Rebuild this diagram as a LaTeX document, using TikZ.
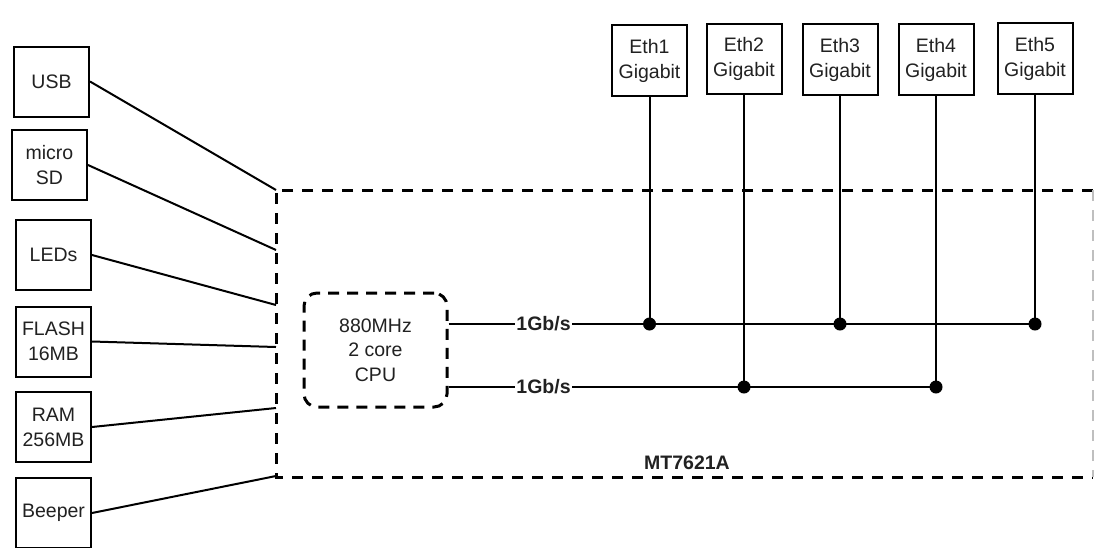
\documentclass[tikz,border=0pt]{standalone}
\usepackage{fontspec}
\setmainfont{Liberation Sans}
\definecolor{txt}{gray}{0.13}
\begin{document}
\begin{tikzpicture}[x=1pt,y=-1pt,
  box/.style={draw=black, line width=2pt, minimum width=75pt, minimum height=70pt, inner sep=0pt, align=center, font=\fontsize{19.5}{25}\selectfont, text=txt},
  link/.style={line width=2pt},
  chipline/.style={line width=3pt, dash pattern=on 11pt off 9pt},
  dot/.style={circle, fill=black, inner sep=0pt, minimum size=13pt},
  rate/.style={fill=white, inner sep=1pt, font=\bfseries\fontsize{19.5}{22}\selectfont, text=txt},
  plain/.style={align=center, inner sep=0pt, font=\fontsize{19.5}{24.5}\selectfont, text=txt}
]
\clip (0,0) rectangle (1094,547);
\fill[white] (0,0) rectangle (1094,547);

% chip outline
\coordinate (tl) at (276,190);
\coordinate (tr) at (1093,190);
\coordinate (br) at (1093,477);
\coordinate (bl) at (276,477);
\draw[chipline] (tr) -- (tl) -- (bl) -- (br);
\draw[line width=2pt, draw=black!25, dash pattern=on 11pt off 9pt] (tr) -- (br);
\node[font=\bfseries\fontsize{19.5}{22}\selectfont, text=txt] (chipname) at (687,463) {MT7621A};

% left peripherals
\node[box] (usb)   at (51.5,81.5) {USB};
\node[box] (sd)    at (49.5,165)  {micro\\SD};
\node[box] (leds)  at (53.5,255)  {LEDs};
\node[box] (flash) at (53.5,341.5){FLASH\\16MB};
\node[box] (ram)   at (53.5,427)  {RAM\\256MB};
\node[box] (beep)  at (53.5,513)  {Beeper};

\coordinate (c1) at (276,190);
\coordinate (c2) at (276,250);
\coordinate (c3) at (276,305);
\coordinate (c4) at (276,347);
\coordinate (c5) at (276,408);
\coordinate (c6) at (276,476);

\draw[link] (usb.east) -- (c1);
\draw[link] (sd.east) -- (c2);
\draw[link] (leds.east) -- (c3);
\draw[link] (flash.east) -- (c4);
\draw[link] (ram.east) -- (c5);
\draw[link] (beep.east) -- (c6);

% CPU
\node[draw=black, line width=3pt, dash pattern=on 11pt off 8pt, rounded corners=13pt,
      minimum width=143pt, minimum height=114pt, plain] (cpu) at (375.5,350) {880MHz\\2 core\\CPU};

% Ethernet ports
\node[box, minimum height=71pt] (e1) at (649.5,60.5) {Eth1\\Gigabit};
\node[box, minimum height=70pt] (e2) at (744,59)     {Eth2\\Gigabit};
\node[box, minimum height=71pt] (e3) at (840,59.5)   {Eth3\\Gigabit};
\node[box, minimum height=71pt] (e4) at (936,59.5)   {Eth4\\Gigabit};
\node[box, minimum height=71pt] (e5) at (1035,58.5)  {Eth5\\Gigabit};

\node[dot] (d1) at (649.5,324) {};
\node[dot] (d3) at (840,324) {};
\node[dot] (d5) at (1035,324) {};
\node[dot] (d2) at (744,387) {};
\node[dot] (d4) at (936,387) {};

\draw[link] (e1.south) -- (d1.center);
\draw[link] (e2.south) -- (d2.center);
\draw[link] (e3.south) -- (d3.center);
\draw[link] (e4.south) -- (d4.center);
\draw[link] (e5.south) -- (d5.center);

\coordinate (p1) at (cpu.east |- d1);
\coordinate (p2) at (cpu.east |- d2);
\draw[link] (p1) -- (d5.center);
\draw[link] (p2) -- (d4.center);
\node[rate] (r1) at (543.5,324) {1Gb/s};
\node[rate] (r2) at (543.5,387) {1Gb/s};
\end{tikzpicture}
\end{document}
